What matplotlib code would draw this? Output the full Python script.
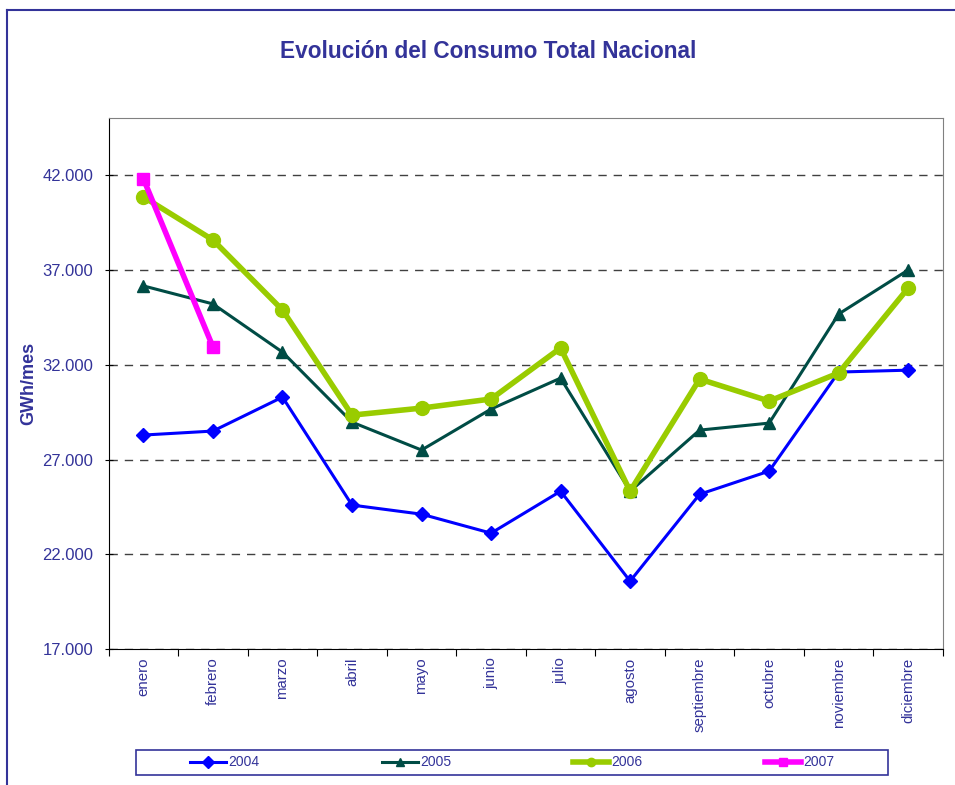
import numpy as np
import matplotlib
matplotlib.use("Agg")
import matplotlib.pyplot as plt
from matplotlib.lines import Line2D
from matplotlib.patches import Rectangle

plt.rcParams['font.family'] = ['Liberation Sans', 'DejaVu Sans']

meses = ['enero', 'febrero', 'marzo', 'abril', 'mayo', 'junio', 'julio',
         'agosto', 'septiembre', 'octubre', 'noviembre', 'diciembre']
c2004 = [28290, 28500, 30290, 24600, 24120, 23120, 25330, 20590, 25170, 26390, 31610, 31710]
c2005 = [36150, 35200, 32660, 28970, 27500, 29660, 31290, 25330, 28550, 28920, 34670, 36990]
c2006 = [40840, 38570, 34880, 29340, 29710, 30190, 32880, 25330, 31240, 30080, 31560, 36040]
c2007 = [41790, 32930]
yticks = [17000, 22000, 27000, 32000, 37000, 42000]

txt = '#333399'

fig = plt.figure(figsize=(9.55, 7.85), dpi=100)
ax = fig.add_axes([0.1138, 0.1729, 0.8736, 0.6768])

x = np.arange(len(meses))
ax.plot(x, c2004, color='#0000FF', lw=2.2, marker='D', ms=7, label='2004', zorder=3)
ax.plot(x, c2005, color='#004C45', lw=2.2, marker='^', ms=9, label='2005', zorder=3)
ax.plot(x, c2006, color='#99CC00', lw=4, marker='o', ms=10, label='2006', zorder=4)
ax.plot(x[:len(c2007)], c2007, color='#FF00FF', lw=4, marker='s', ms=9, label='2007', zorder=5)

ax.set_xlim(-0.5, 11.5)
ax.set_ylim(17000, 45000)
ax.set_yticks(yticks)
ax.set_yticklabels([f'{v:,}'.replace(',', '.') for v in yticks], color=txt, fontsize=12)
ax.set_xticks(np.arange(-0.5, 12, 1))
ax.set_xticklabels([])
ax.set_xticks(x, minor=True)
ax.set_xticklabels(meses, minor=True, rotation=90, color=txt, fontsize=10.8)
ax.tick_params(axis='x', which='minor', length=0, pad=6)
ax.tick_params(axis='x', which='major', length=5, direction='out')
ax.tick_params(axis='y', length=6, direction='inout', pad=8)
ax.yaxis.grid(True, linestyle=(0, (6, 5)), color='#404040', lw=1)
ax.set_axisbelow(True)
for s in ['top', 'right']:
    ax.spines[s].set_color('#808080')
for s in ['left', 'bottom']:
    ax.spines[s].set_color('black')
ax.set_ylabel('GWh/mes', color=txt, fontsize=13, fontweight='bold', labelpad=4)

fig.text(0.511, 0.934, 'Evolución del Consumo Total Nacional', ha='center', va='center',
         color=txt, fontsize=16.3, fontweight='bold')

# outer chart frame (cut off on right and bottom)
fig.add_artist(Line2D([7.3 / 955, 1], [1 - 10 / 785, 1 - 10 / 785], color=txt, lw=1.5))
fig.add_artist(Line2D([7.3 / 955, 7.3 / 955], [0, 1 - 10 / 785], color=txt, lw=1.5))

# legend box
fig.add_artist(Rectangle((136 / 955, 1 - 775 / 785), 752 / 955, 25 / 785,
                         transform=fig.transFigure, fill=False, edgecolor=txt, lw=1.2))
leg = fig.legend(loc='center', bbox_to_anchor=(512 / 955, 1 - 762.5 / 785), ncol=4,
                 frameon=False, fontsize=10, columnspacing=8.8, handlelength=2.6,
                 handletextpad=0.15)
for t in leg.get_texts():
    t.set_color(txt)
for h in leg.legend_handles:
    h.set_markersize(6)

fig.savefig('out.png', dpi=100)
